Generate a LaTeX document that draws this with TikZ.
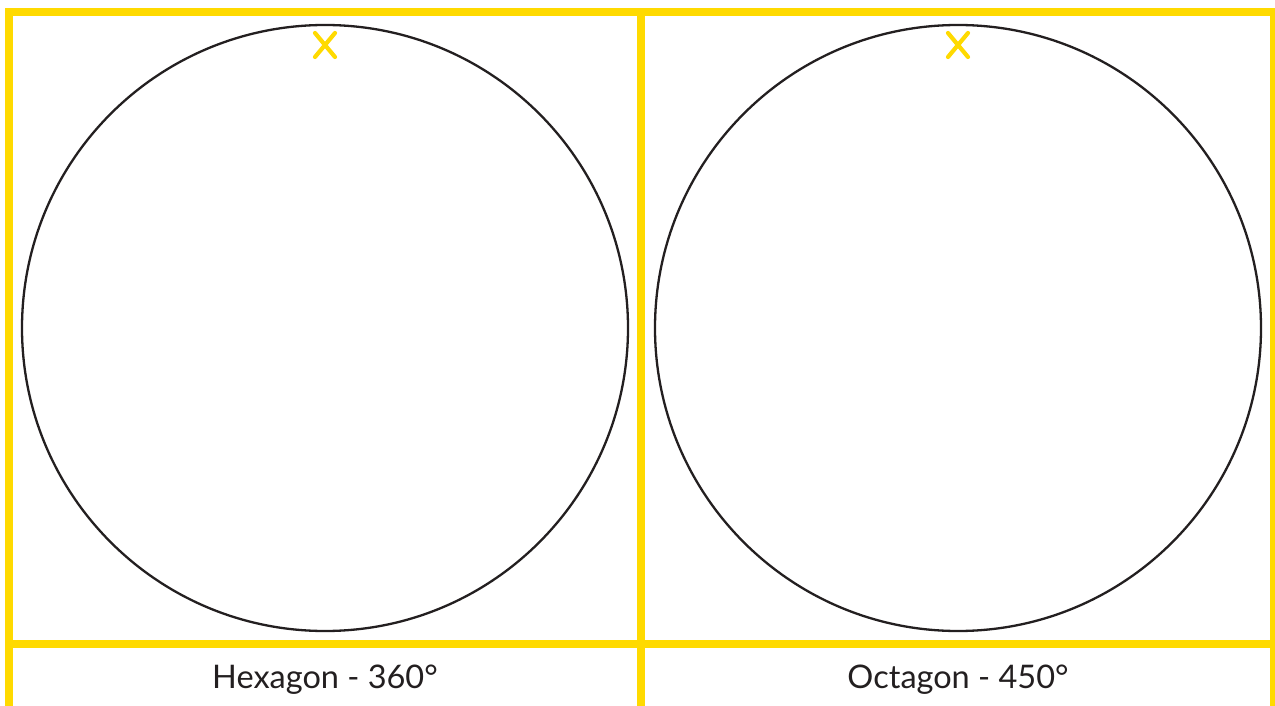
\documentclass[tikz,border=0pt]{standalone}
\usepackage{fontspec}
\setmainfont{Lato}
\usetikzlibrary{calc}
\definecolor{frameY}{HTML}{FFDA00}
\definecolor{ink}{HTML}{231F20}
\begin{document}
\begin{tikzpicture}[x=1pt,y=-1pt,
  framey/.style={draw=frameY,line width=8pt},
  ring/.style={draw=ink,line width=2.3pt},
  xmark/.style={draw=frameY,line width=4.2pt,line cap=round},
  lbl/.style={font=\fontsize{32.5}{38}\selectfont,text=ink,inner sep=0pt}]
\useasboundingbox (0,0) rectangle (1275,706);
\fill[white] (0,0) rectangle (1275,706);
% frame
\draw[framey] (9,706) -- (9,12) -- (1274,12) -- (1274,706);
\draw[framey] (641,12) -- (641,706);
\draw[framey] (9,644) -- (1274,644);
% circles
\node[ring,circle,minimum size=606pt,inner sep=0pt] (c1) at (325,328) {};
\node[ring,circle,minimum size=606pt,inner sep=0pt] (c2) at (958,328) {};
% X marks
\coordinate (x1) at (325,45);
\coordinate (x2) at (958,45);
\draw[xmark] ($(x1)+(-10,-12)$) -- ($(x1)+(10,12)$) ($(x1)+(10,-12)$) -- ($(x1)+(-10,12)$);
\draw[xmark] ($(x2)+(-10,-12)$) -- ($(x2)+(10,12)$) ($(x2)+(10,-12)$) -- ($(x2)+(-10,12)$);
% labels
\node[lbl] (t1) at (325,680) {Hexagon - 360°};
\node[lbl] (t2) at (958,680) {Octagon - 450°};
\end{tikzpicture}
\end{document}
